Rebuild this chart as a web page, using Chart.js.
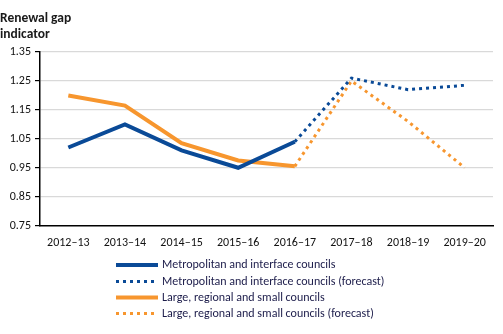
<!DOCTYPE html>
<html>
<head>
<meta charset="utf-8">
<script src="https://cdn.jsdelivr.net/npm/chart.js@4.4.1/dist/chart.umd.min.js"></script>
<style>
  html, body { margin: 0; padding: 0; background: #fff; }
  #wrap { width: 503px; height: 334px; position: relative; }
</style>
</head>
<body>
<div id="wrap"><canvas id="chart"></canvas></div>
<script>
const years = ['2012–13', '2013–14', '2014–15', '2015–16', '2016–17', '2017–18', '2018–19', '2019–20'];
const yTicks = [0.75, 0.85, 0.95, 1.05, 1.15, 1.25, 1.35];

const metro = [1.02, 1.10, 1.01, 0.95, 1.04, null, null, null];
const metroForecast = [null, null, null, null, 1.04, 1.26, 1.22, 1.235];
const regional = [1.20, 1.165, 1.035, 0.975, 0.955, null, null, null];
const regionalForecast = [null, null, null, null, 0.955, 1.25, 1.11, 0.95];

const BLUE = '#0a4a97';
const ORANGE = '#f7962e';
const FONT = "Carlito, Calibri, 'Liberation Sans Narrow', 'Open Sans', sans-serif";

// legend stacked one entry per row under the x axis
const stackedLegend = {
  id: 'stackedLegend',
  afterDraw(chart) {
    const ctx = chart.ctx;
    const rowY = [265, 281.5, 297.5, 313.5];
    ctx.save();
    chart.data.datasets.forEach((ds, i) => {
      const y = rowY[i];
      ctx.beginPath();
      ctx.strokeStyle = ds.borderColor;
      ctx.lineWidth = ds.borderWidth;
      ctx.setLineDash(ds.borderDash || []);
      ctx.lineCap = 'butt';
      ctx.moveTo(116, y);
      ctx.lineTo(158, y);
      ctx.stroke();
      ctx.setLineDash([]);
      ctx.fillStyle = '#1c1c4a';
      ctx.font = '12px ' + FONT;
      ctx.textBaseline = 'middle';
      ctx.textAlign = 'left';
      ctx.fillText(ds.label, 162, y);
    });
    ctx.restore();
  }
};

new Chart(document.getElementById('chart'), {
  type: 'line',
  data: {
    labels: years,
    datasets: [
      { label: 'Metropolitan and interface councils', data: metro, borderColor: BLUE, borderWidth: 4 },
      { label: 'Metropolitan and interface councils (forecast)', data: metroForecast, borderColor: BLUE, borderWidth: 3, borderDash: [3, 4] },
      { label: 'Large, regional and small councils', data: regional, borderColor: ORANGE, borderWidth: 4 },
      { label: 'Large, regional and small councils (forecast)', data: regionalForecast, borderColor: ORANGE, borderWidth: 3, borderDash: [3, 4] }
    ]
  },
  options: {
    responsive: true,
    maintainAspectRatio: false,
    animation: false,
    elements: { point: { radius: 0 }, line: { tension: 0, fill: false } },
    layout: { padding: { left: 0, right: 10, top: 0, bottom: 80 } },
    scales: {
      x: {
        offset: true,
        grid: { display: false, drawOnChartArea: false, drawTicks: true, tickLength: 6, color: '#000', offset: true },
        border: { display: true, color: '#000', width: 1.5 },
        ticks: { color: '#111', font: { family: FONT, size: 12 }, maxRotation: 0, autoSkip: false, padding: 4 }
      },
      y: {
        min: 0.75,
        max: 1.35,
        afterBuildTicks(axis) { axis.ticks = yTicks.map(v => ({ value: v })); },
        afterFit(axis) { axis.width = 40; },
        grid: {
          color: ctx => ctx.tick && ctx.tick.value === 0.75 ? 'rgba(0,0,0,0)' : '#d9d9d9',
          tickColor: '#000',
          tickLength: 5,
          lineWidth: 1.2
        },
        border: { display: true, color: '#000', width: 1.5 },
        ticks: { color: '#111', font: { family: FONT, size: 12 }, padding: 4, callback: v => v.toFixed(2) }
      }
    },
    plugins: {
      legend: { display: false },
      tooltip: { enabled: false },
      title: {
        display: true,
        text: ['Renewal gap', 'indicator'],
        align: 'start',
        color: '#1a1a1a',
        font: { family: FONT, size: 13.5, weight: 'bold', lineHeight: 1.15 },
        padding: { top: 11, bottom: 10 }
      }
    }
  },
  plugins: [stackedLegend]
});
</script>
</body>
</html>
